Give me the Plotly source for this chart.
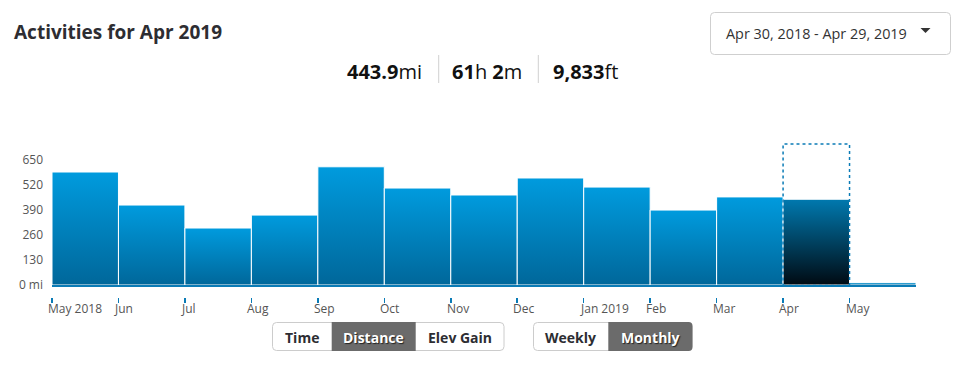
import plotly.graph_objects as go

# ---------------- data ----------------
months = ["May 2018", "Jun", "Jul", "Aug", "Sep", "Oct", "Nov", "Dec",
          "Jan 2019", "Feb", "Mar", "Apr", "May"]
distance_mi = [585, 414, 295, 362, 612, 502, 466, 554, 507, 388, 456, 443.9, 12]
selected_month = "Apr"
y_ticks = [0, 130, 260, 390, 520, 650]
y_tick_text = ["0 mi", "130", "260", "390", "520", "650"]
title_text = "Activities for Apr 2019"
stats = ["<b>443.9</b>mi", "<b>61</b>h <b>2</b>m", "<b>9,833</b>ft"]
date_range = "Apr 30, 2018 - Apr 29, 2019"
metric_buttons = ["Time", "Distance", "Elev Gain"]
active_metric = "Distance"
period_buttons = ["Weekly", "Monthly"]
active_period = "Monthly"

# ---------------- geometry helpers ----------------
W, H = 959, 368
ML, MR, MT, MB = 52, 43, 144, 58
PW = W - ML - MR
PH = H - MT - MB
PAPER_BOTTOM_PX = H - MB


def px(x):
    return (x - ML) / PW


def py(y):
    return (PAPER_BOTTOM_PX - y) / PH


Y_MAX = 730
ZERO_PX = 285
y_dom0 = py(ZERO_PX)

FONT = "Open Sans, Noto Sans, sans-serif"
BLUE_TOP = "#009BDE"
BLUE_BOT = "#00679A"
SEL_TOP = "#0079AF"
SEL_BOT = "#000A12"
AXIS_BLUE = "#0A7BB6"

fig = go.Figure()

for i, (m, v) in enumerate(zip(months, distance_mi)):
    sel = (m == selected_month)
    top = SEL_TOP if sel else BLUE_TOP
    bot = SEL_BOT if sel else BLUE_BOT
    fig.add_trace(go.Scatter(
        x=[i, i + 1, i + 1, i, i],
        y=[0, 0, v, v, 0],
        mode="lines",
        fill="toself",
        line=dict(color="white", width=1),
        fillgradient=dict(type="vertical",
                          colorscale=[[0, bot], [1, top]],
                          start=0, stop=v),
        hoverinfo="skip",
        showlegend=False,
    ))

# invisible trace on the tick axis
fig.add_trace(go.Scatter(x=[0, len(months)], y=[0, 0], xaxis="x2",
                         mode="markers", marker=dict(opacity=0),
                         hoverinfo="skip", showlegend=False))

n = len(months)
fig.update_layout(
    width=W, height=H,
    margin=dict(l=ML, r=MR, t=MT, b=MB, pad=0),
    paper_bgcolor="white", plot_bgcolor="white",
    hovermode=False,
    font=dict(family=FONT, color="#555"),
    xaxis=dict(range=[0, n], showgrid=False, zeroline=False,
               showline=True, linecolor=AXIS_BLUE, linewidth=2,
               ticks="", showticklabels=False, fixedrange=True),
    xaxis2=dict(range=[0, n], overlaying="x", anchor="free",
                position=py(296.5), side="bottom",
                showgrid=False, zeroline=False, showline=False,
                tickvals=list(range(n)), ticks="outside", ticklen=5,
                tickwidth=1.5, tickcolor=AXIS_BLUE,
                showticklabels=False),
    yaxis=dict(range=[0, Y_MAX], domain=[y_dom0, 1], showgrid=False,
               zeroline=False, showline=False, ticks="",
               tickvals=y_ticks, ticktext=y_tick_text,
               tickfont=dict(size=12, color="#555", family=FONT),
               ticklabelstandoff=8),
)

# selected month dotted box
sel_idx = months.index(selected_month)
fig.add_shape(type="rect", xref="x", yref="paper",
              x0=sel_idx, x1=sel_idx + 1, y0=py(285.5), y1=1,
              line=dict(color=AXIS_BLUE, width=1.5, dash="dot"),
              fillcolor="rgba(0,0,0,0)", layer="above")

ann = []
# x tick labels
for i, m in enumerate(months):
    ann.append(dict(x=i, y=py(308), xref="x", yref="paper", text=m,
                    showarrow=False, xanchor="left", yanchor="middle",
                    xshift=-6, font=dict(size=12, color="#555", family=FONT)))

# title
ann.append(dict(x=px(12), y=py(32), xref="paper", yref="paper",
                text="<b>" + title_text + "</b>", showarrow=False,
                xanchor="left", yanchor="middle",
                font=dict(size=19, color="#2d2d32", family=FONT)))

# stats
stat_centers = [384, 486.5, 585]
for cx, s in zip(stat_centers, stats):
    ann.append(dict(x=px(cx), y=py(71), xref="paper", yref="paper", text=s,
                    showarrow=False, xanchor="center", yanchor="middle",
                    font=dict(size=20, color="#111", family=FONT)))
for sx in [438.7, 538.3]:
    fig.add_shape(type="line", xref="paper", yref="paper",
                  x0=px(sx), x1=px(sx), y0=py(55), y1=py(83),
                  line=dict(color="#d0d0d0", width=1))

# dropdown
def rrect(x0, y0, x1, y1, r, left=True, right=True):
    p = ""
    X0, X1 = px(x0), px(x1)
    if left:
        p += f"M {px(x0 + r)} {py(y0)} "
    else:
        p += f"M {X0} {py(y0)} "
    if right:
        p += f"L {px(x1 - r)} {py(y0)} Q {X1} {py(y0)} {X1} {py(y0 + r)} "
        p += f"L {X1} {py(y1 - r)} Q {X1} {py(y1)} {px(x1 - r)} {py(y1)} "
    else:
        p += f"L {X1} {py(y0)} L {X1} {py(y1)} "
    if left:
        p += f"L {px(x0 + r)} {py(y1)} Q {X0} {py(y1)} {X0} {py(y1 - r)} "
        p += f"L {X0} {py(y0 + r)} Q {X0} {py(y0)} {px(x0 + r)} {py(y0)} Z"
    else:
        p += f"L {X0} {py(y1)} Z"
    return p


fig.add_shape(type="path", xref="paper", yref="paper",
              path=rrect(710.5, 12.5, 950.5, 54.5, 4),
              line=dict(color="#cfcfcf", width=1), fillcolor="white")
ann.append(dict(x=px(724), y=py(33.5), xref="paper", yref="paper",
                text=date_range, showarrow=False, xanchor="left",
                yanchor="middle", font=dict(size=14.4, color="#333", family=FONT)))
fig.add_shape(type="path", xref="paper", yref="paper",
              path=f"M {px(920.5)} {py(28)} L {px(930.5)} {py(28)} L {px(925.5)} {py(33)} Z",
              line=dict(width=0), fillcolor="#333")

# button groups
BY0, BY1 = 322, 351
def button_group(labels, active, edges):
    fig.add_shape(type="path", xref="paper", yref="paper",
                  path=rrect(edges[0] + 0.5, BY0 + 0.5, edges[-1] - 0.5, BY1 - 0.5, 4),
                  line=dict(color="#cccccc", width=1), fillcolor="white")
    for k, lab in enumerate(labels):
        x0, x1 = edges[k], edges[k + 1]
        is_act = lab == active
        if is_act:
            fig.add_shape(type="path", xref="paper", yref="paper",
                          path=rrect(x0, BY0, x1, BY1, 4,
                                     left=(k == 0), right=(k == len(labels) - 1)),
                          line=dict(width=0), fillcolor="#6b6b6b")
        ann.append(dict(x=px((x0 + x1) / 2), y=py((BY0 + BY1) / 2 + 0.5),
                        xref="paper", yref="paper", text="<b>" + lab + "</b>",
                        showarrow=False, xanchor="center", yanchor="middle",
                        font=dict(size=14, family=FONT,
                                  color="white" if is_act else "#2d2d32",
                                  shadow="1px 1px 1px #222" if is_act else "none")))


button_group(metric_buttons, active_metric, [272, 331.7, 415.7, 504.5])
button_group(period_buttons, active_period, [533, 608.3, 692.5])

fig.update_layout(annotations=ann)
fig.write_html("out.html",
               config={"displayModeBar": False, "staticPlot": True},
               post_script="document.body.style.margin='0';document.body.style.overflow='hidden';")
